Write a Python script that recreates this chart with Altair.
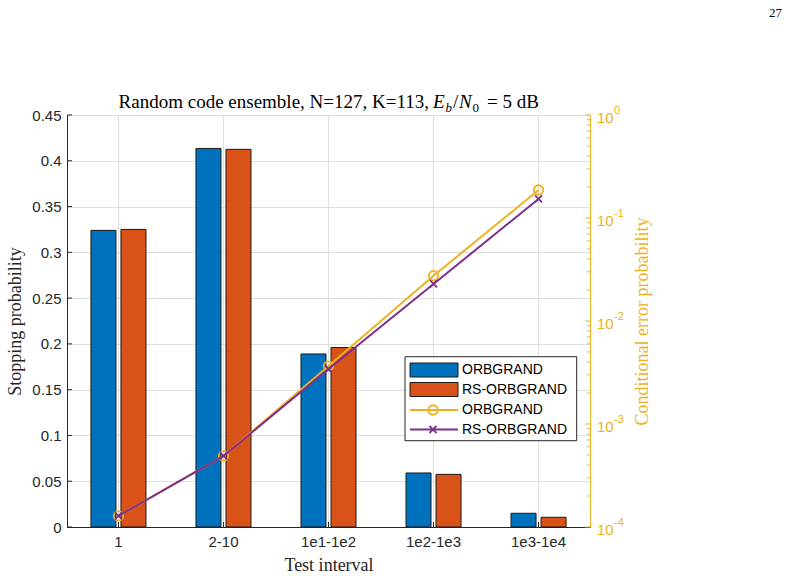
import altair as alt
import pandas as pd

# ---------------- data ----------------
categories = ["1", "2-10", "1e1-1e2", "1e2-1e3", "1e3-1e4"]
methods = ["ORBGRAND", "RS-ORBGRAND"]
stop_orbgrand = [0.324, 0.4135, 0.189, 0.059, 0.015]
stop_rs_orbgrand = [0.325, 0.4125, 0.196, 0.0575, 0.0106]
cep_orbgrand = [1.28e-4, 4.9e-4, 3.65e-3, 2.75e-2, 0.187]
cep_rs_orbgrand = [1.28e-4, 4.9e-4, 3.42e-3, 2.29e-2, 0.153]
left_tick_values = [0, 0.05, 0.1, 0.15, 0.2, 0.25, 0.3, 0.35, 0.4, 0.45]
right_major_values = [1e-4, 1e-3, 1e-2, 1e-1, 1]
right_exponents = ["-4", "-3", "-2", "-1", "0"]
right_minor_values = [m * d for d in [1e-4, 1e-3, 1e-2, 1e-1] for m in range(2, 10)]

W, H = 523, 412
BLUE, ORANGE, YELLOW, PURPLE = "#0072BD", "#D95319", "#EDB120", "#7E2F8E"
AX = "#262626"
GRID = "#dfdfdf"
SANS = "Liberation Sans"
SERIF = "Liberation Serif"

bars_df = pd.DataFrame({
    "interval": categories * 2,
    "method": [m for m in methods for _ in categories],
    "prob": stop_orbgrand + stop_rs_orbgrand,
})
lines_df = pd.DataFrame({
    "interval": categories * 2,
    "method": [m for m in methods for _ in categories],
    "cep": cep_orbgrand + cep_rs_orbgrand,
})
left_ticks_df = pd.DataFrame({"v": left_tick_values})
cat_df = pd.DataFrame({"interval": categories})
rmaj_df = pd.DataFrame({"v": right_major_values, "exp": right_exponents})
rmin_df = pd.DataFrame({"v": right_minor_values})
one = pd.DataFrame({"a": [0]})

x_scale = alt.Scale(paddingInner=0.476, paddingOuter=0.228)
x_axis = alt.Axis(
    title="Test interval", labelFont=SANS, labelFontSize=15, labelColor=AX,
    labelAngle=0, ticks=False, domainColor=AX, domainWidth=1, grid=True,
    gridColor=GRID, gridWidth=1, bandPosition=0.5, labelPadding=7,
    titleFont=SERIF, titleFontSize=18, titleFontWeight="normal", titleColor=AX,
    titleX=W / 2, titleY=38, titleBaseline="middle", titleAlign="center",
)
y_left_scale = alt.Scale(domain=[0, 0.45], nice=False, zero=True)
y_left_axis = alt.Axis(
    values=left_tick_values, format="~g", labelFont=SANS, labelFontSize=15,
    labelColor=AX, ticks=False, labelPadding=6, domainColor=AX, domainWidth=1,
    grid=True, gridColor=GRID, gridWidth=1,
    title="Stopping probability", titleFont=SERIF, titleFontSize=18,
    titleFontWeight="normal", titleColor=AX, titleAngle=270, titleX=-52,
    titleY=H / 2, titleAlign="center", titleBaseline="middle",
)
y_right_scale = alt.Scale(type="log", domain=[1e-4, 1], nice=False)
y_right_axis = alt.Axis(
    orient="right", labels=False, ticks=False, grid=False, domainColor=YELLOW,
    domainWidth=1, title="Conditional error probability", titleFont=SERIF,
    titleFontSize=18, titleFontWeight="normal", titleColor=YELLOW,
    titleAngle=270, titleX=52, titleY=H / 2, titleAlign="center",
    titleBaseline="middle",
)

# ---------------- left (bars) ----------------
bars = alt.Chart(bars_df).mark_bar(stroke="#1a1a1a", strokeWidth=1).encode(
    x=alt.X("interval:N", sort=categories, scale=x_scale, axis=x_axis),
    xOffset=alt.XOffset("method:N", sort=methods, scale=alt.Scale(paddingInner=0.167)),
    y=alt.Y("prob:Q", scale=y_left_scale, axis=y_left_axis),
    color=alt.Color("method:N", scale=alt.Scale(domain=methods, range=[BLUE, ORANGE]), legend=None),
)
left_ticks = alt.Chart(left_ticks_df).mark_rule(color=AX, strokeWidth=1).encode(
    y=alt.Y("v:Q", scale=y_left_scale), x=alt.value(0), x2=alt.value(5)
)
bottom_ticks = alt.Chart(cat_df).mark_rule(color=AX, strokeWidth=1).encode(
    x=alt.X("interval:N", sort=categories, scale=x_scale), y=alt.value(H), y2=alt.value(H - 5)
)
left = alt.layer(bars, left_ticks, bottom_ticks)

# ---------------- right (lines) ----------------
def series(name, color, shape, size):
    base = alt.Chart(lines_df).transform_filter(alt.datum.method == name)
    enc = dict(
        x=alt.X("interval:N", sort=categories, scale=x_scale),
        y=alt.Y("cep:Q", scale=y_right_scale),
    )
    ln = base.mark_line(color=color, strokeWidth=2).encode(**enc)
    pt = base.mark_point(shape=shape, size=size, filled=False, color=color,
                         strokeWidth=1.8, opacity=1).encode(**enc)
    return ln, pt

ln1, pt1 = series("ORBGRAND", YELLOW, "circle", 90)
ln2, pt2 = series("RS-ORBGRAND", PURPLE, "M-1,-1L1,1M-1,1L1,-1", 49)

rmaj_ticks = alt.Chart(rmaj_df).mark_rule(color=YELLOW, strokeWidth=1).encode(
    y=alt.Y("v:Q", scale=y_right_scale, axis=y_right_axis), x=alt.value(W - 5), x2=alt.value(W)
)
rmin_ticks = alt.Chart(rmin_df).mark_rule(color=YELLOW, strokeWidth=1).encode(
    y=alt.Y("v:Q", scale=y_right_scale), x=alt.value(W - 3), x2=alt.value(W)
)
r_lab10 = alt.Chart(rmaj_df).mark_text(
    align="left", baseline="middle", font=SANS, fontSize=15, color=YELLOW, dy=3
).encode(y=alt.Y("v:Q", scale=y_right_scale), x=alt.value(W + 7), text=alt.value("10"))
r_labexp = alt.Chart(rmaj_df).mark_text(
    align="left", baseline="middle", font=SANS, fontSize=11, color=YELLOW, dy=-4
).encode(y=alt.Y("v:Q", scale=y_right_scale), x=alt.value(W + 24), text="exp:N")

right = alt.layer(rmaj_ticks, rmin_ticks, ln1, pt1, ln2, pt2, r_lab10, r_labexp)

# ---------------- legend ----------------
legend_box = alt.Chart(one).mark_rect(fill="white", stroke=AX, strokeWidth=1).encode(
    x=alt.value(338), x2=alt.value(509.7), y=alt.value(241.7), y2=alt.value(325.7)
)
sw1 = alt.Chart(one).mark_rect(fill=BLUE, stroke="#1a1a1a", strokeWidth=1).encode(
    x=alt.value(343), x2=alt.value(391), y=alt.value(248), y2=alt.value(262)
)
sw2 = alt.Chart(one).mark_rect(fill=ORANGE, stroke="#1a1a1a", strokeWidth=1).encode(
    x=alt.value(343), x2=alt.value(391), y=alt.value(267.5), y2=alt.value(281.5)
)
lg_l1 = alt.Chart(one).mark_rule(color=YELLOW, strokeWidth=2).encode(
    x=alt.value(343), x2=alt.value(391), y=alt.value(295)
)
lg_l2 = alt.Chart(one).mark_rule(color=PURPLE, strokeWidth=2).encode(
    x=alt.value(343), x2=alt.value(391), y=alt.value(314.5)
)
lg_p1 = alt.Chart(one).mark_point(shape="circle", size=90, filled=False, color=YELLOW,
                                  strokeWidth=1.8, opacity=1).encode(
    x=alt.value(366), y=alt.value(295))
lg_p2 = alt.Chart(one).mark_point(shape="M-1,-1L1,1M-1,1L1,-1", size=49, filled=False,
                                  color=PURPLE, strokeWidth=1.8, opacity=1).encode(
    x=alt.value(366), y=alt.value(314.5))
legend_texts = []
for lbl, yy in zip(methods + methods, [255, 274.5, 295, 314.5]):
    legend_texts.append(
        alt.Chart(one).mark_text(align="left", baseline="middle", font=SANS,
                                 fontSize=14, color="black").encode(
            x=alt.value(395), y=alt.value(yy), text=alt.value(lbl))
    )

# ---------------- title pieces ----------------
def txt(s, x, y, size=19, style="normal", align="left", color="black"):
    return alt.Chart(one).mark_text(align=align, baseline="alphabetic", font=SERIF,
                                    fontSize=size, fontStyle=style, color=color).encode(
        x=alt.value(x), y=alt.value(y), text=alt.value(s))

title_parts = [
    txt("Random code ensemble, N=127, K=113,", 362, -7, align="right"),
    txt("E", 366, -7, style="italic"),
    txt("b", 378.5, -3.5, size=13, style="italic"),
    txt("/", 386, -7),
    txt("N", 392, -7, style="italic"),
    txt("0", 405.5, -3.5, size=13),
    txt("= 5 dB", 420, -7),
    txt("27", 715, -98, size=13, align="right"),
]

chart = alt.layer(
    left, right, legend_box, sw1, sw2, lg_l1, lg_l2, lg_p1, lg_p2, *legend_texts, *title_parts
).resolve_scale(y="independent").properties(
    width=W, height=H, autosize="none",
    padding={"left": 67, "top": 115, "right": 201, "bottom": 49},
).configure_view(stroke=AX, strokeWidth=1)

chart.save("out.html", embed_options={"renderer": "svg", "actions": False})
